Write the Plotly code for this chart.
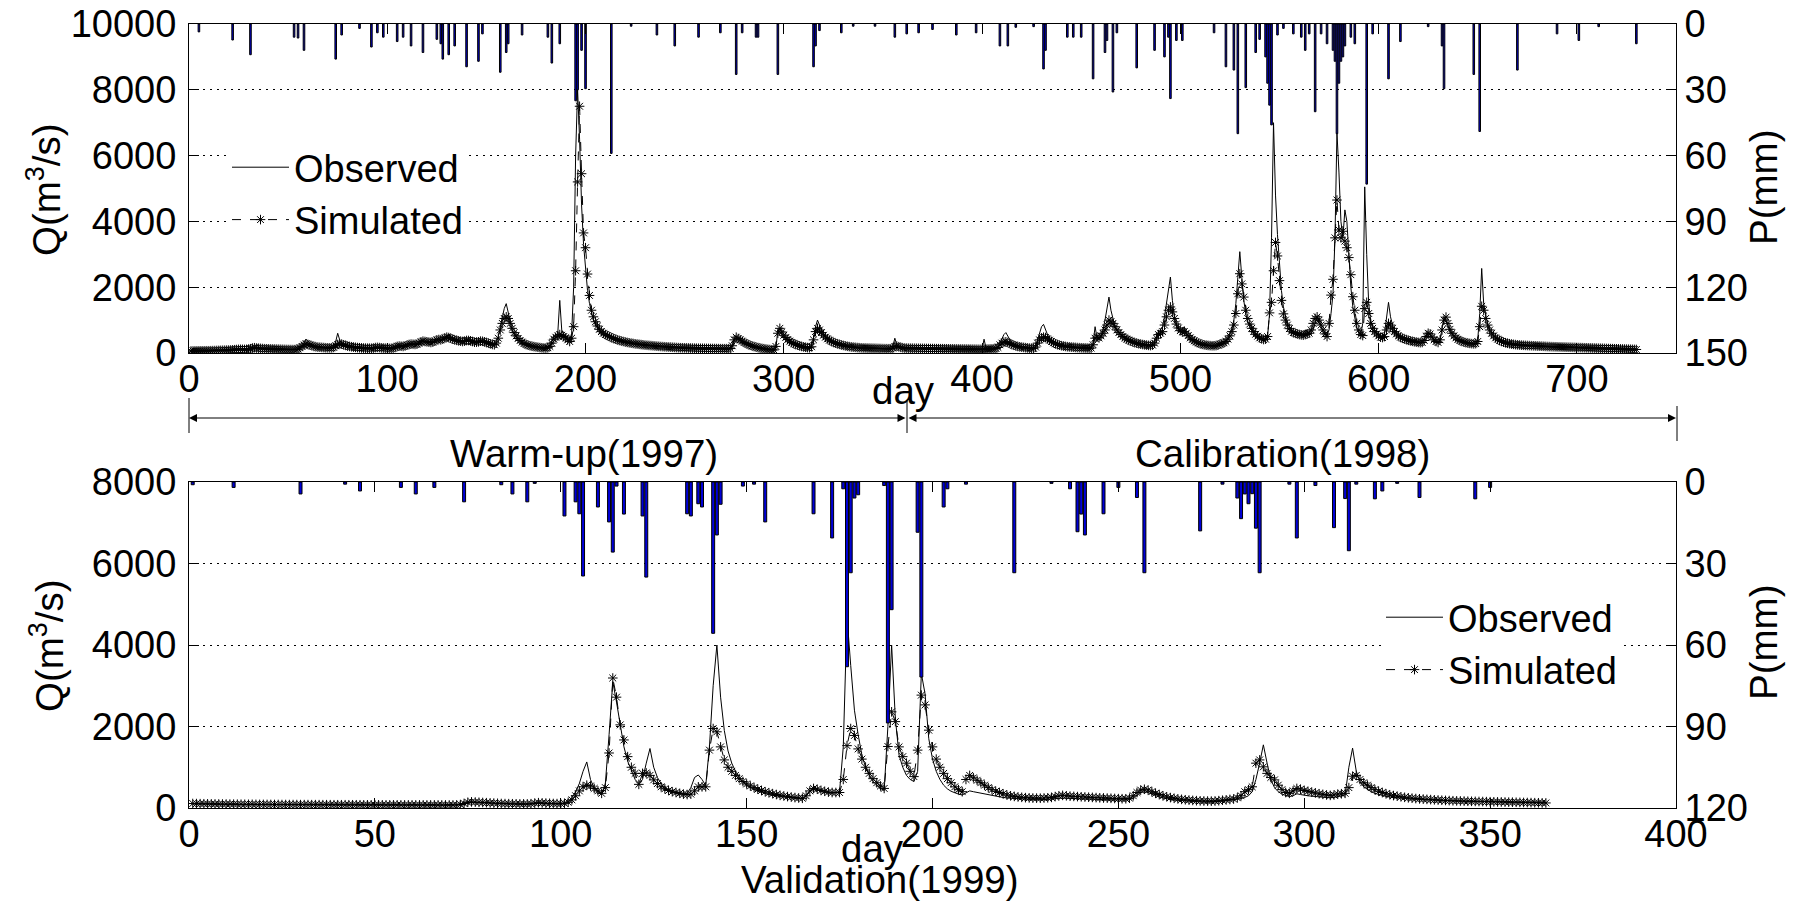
import plotly.graph_objects as go

# ---------------- data: warm-up + calibration (1997-1998), daily ----------------
q_obs_cal = [
80,78,76,75,74,73,72,72,71,70, 70,70,72,75,78,80,82,85,88,90,
95,100,110,120,115,110,105,100,105,120, 160,180,170,150,140,135,130,128,126,125,
124,122,120,118,116,115,114,112,110,108, 106,104,102,100,110,150,220,300,420,350,
280,230,200,180,170,165,160,158,156,155, 155,160,200,350,600,400,300,250,220,200,
190,180,170,165,160,155,150,148,146,145, 140,138,150,180,170,160,150,145,140,138,
140,145,160,200,260,240,220,210,230,280, 300,280,260,250,280,350,400,380,350,330,
320,310,330,380,430,400,380,420,480,520, 560,480,420,400,380,360,350,340,360,400,
380,360,340,320,330,350,380,360,340,320, 300,280,260,240,300,500,800,1100,1350,1500,
1200,900,700,560,460,390,340,300,270,250, 230,210,200,190,180,170,160,155,150,150,
160,220,350,500,520,600,1600,700,560,520, 420,380,600,2000,6000,8000,6500,4500,3300,2500,
1900,1500,1200,1000,850,750,680,620,580,550, 520,490,460,440,420,400,380,360,345,330,
320,310,300,290,280,270,262,255,248,240, 235,230,225,220,215,210,205,200,196,192,
188,184,180,176,172,168,165,162,160,158, 156,154,152,150,148,146,145,144,143,142,
141,140,139,138,137,136,135,134,133,132, 131,130,135,200,380,460,420,380,340,300,
270,240,220,200,185,170,160,150,140,130, 120,110,100,95,90,150,700,650,560,480,
420,380,340,300,270,250,230,210,190,180, 170,160,155,200,450,800,1000,850,700,600,
520,450,400,360,330,300,280,260,240,225, 212,200,190,182,176,170,165,160,156,152,
150,148,146,144,142,140,138,136,134,132, 130,129,128,127,200,450,250,180,160,150,
148,146,145,144,143,142,141,140,140,139, 138,137,136,135,134,133,132,131,130,130,
129,128,127,126,125,124,123,122,121,120, 120,119,118,117,116,115,114,113,112,111,
420,150,130,125,125,130,140,180,300,450, 560,620,500,380,300,250,220,200,185,175,
165,158,150,145,140,138,200,400,600,800, 870,700,560,450,380,330,290,260,240,225,
212,200,192,185,180,175,170,166,162,158, 155,152,150,148,146,300,800,450,400,500,
700,1000,1400,1700,1300,1000,800,700,600,540, 480,440,400,370,340,320,300,285,270,260,
250,240,232,225,220,230,300,500,650,700, 800,1100,1500,1900,2310,1600,1100,850,700,650,
620,800,600,500,430,380,340,310,285,265, 250,240,230,222,216,212,210,215,230,260,
280,320,380,460,580,750,1000,1500,2300,3080, 2300,1600,1200,950,800,680,590,520,470,430,
400,380,400,500,1200,3500,7000,4800,3600,2600, 1900,1400,1100,900,780,700,650,620,600,580,
570,560,700,620,580,600,700,900,1100,900, 800,700,600,550,700,1200,1800,3500,6700,5500,
4000,3500,4350,4000,3000,2000,1400,1000,750,620, 560,900,5050,3000,1500,1000,800,700,620,560,
520,500,600,1000,1540,1100,850,700,600,540, 500,470,440,420,400,380,365,350,340,330,
320,330,400,550,600,560,450,380,340,320, 400,800,1090,1000,800,650,560,490,440,400,
370,345,325,310,300,290,282,276,290,400, 1200,2570,1500,1100,850,700,600,520,460,420,
380,350,325,305,290,278,268,260,252,245, 240,236,232,228,225,222,219,216,213,210,
207,204,201,198,195,192,190,188,186,184, 182,180,178,176,174,172,170,168,166,164,
162,170,160,150,148,146,144,142,140,138, 136,134,132,130,128,126,124,122,120,118,
116,114,112,110,108,106,104,102,100,98]

q_sim_cal = [
60,62,63,64,65,66,66,67,68,68, 70,72,74,76,78,80,82,84,86,88,
90,95,100,105,110,112,110,108,110,115, 130,150,160,150,145,140,135,130,128,126,
124,122,120,118,116,114,112,110,108,106, 105,104,103,105,120,160,200,240,280,260,
240,220,200,190,180,175,170,165,160,158, 156,158,170,220,260,280,270,250,230,210,
200,190,180,172,165,160,155,150,148,146, 145,143,150,165,170,165,155,150,146,142,
140,142,150,170,200,210,205,200,215,240, 260,270,265,260,270,300,340,360,350,340,
330,320,330,360,400,410,400,420,460,480, 470,450,420,400,385,370,360,350,360,380,
380,370,350,330,330,340,360,355,340,320, 300,280,260,250,300,450,700,900,1050,1100,
1050,900,750,620,520,440,380,330,290,260, 240,220,205,195,185,175,165,158,152,150,
160,200,300,420,480,520,560,540,500,460, 400,350,450,800,2500,5200,7500,5450,3650,3200,
2400,1750,1300,1100,950,820,720,650,600,560, 530,500,470,445,420,400,380,365,350,335,
322,310,300,290,280,272,264,256,248,240, 235,230,225,220,214,208,203,198,194,190,
186,182,178,174,170,166,163,160,158,156, 154,152,150,148,146,144,143,142,141,140,
139,138,137,136,135,134,133,132,131,130, 131,130,135,220,400,480,440,400,360,320,
290,260,235,215,195,180,165,152,140,130, 122,112,104,98,94,200,600,750,640,540,
470,410,360,320,285,260,238,218,200,185, 175,165,160,190,400,650,750,700,620,540,
480,430,390,355,325,300,280,262,246,230, 216,204,194,186,178,172,166,161,157,153,
152,150,148,146,144,142,140,138,136,134, 132,131,130,130,150,200,210,190,170,158,
150,148,146,145,144,143,142,141,140,139, 138,137,136,135,134,133,132,131,130,130,
129,128,127,126,125,124,123,122,121,120, 120,119,118,117,116,115,114,113,112,111,
115,118,120,122,125,130,140,170,250,300, 330,340,320,290,260,235,215,200,188,178,
170,162,155,148,143,140,180,300,400,460, 480,470,430,390,350,310,280,255,238,222,
210,200,192,186,180,175,170,166,162,158, 155,152,150,148,150,250,450,480,460,520,
600,700,850,1000,950,900,800,700,620,560, 500,460,420,390,360,335,315,298,282,270,
258,248,240,232,226,240,300,450,560,600, 650,850,1100,1300,1400,1250,1050,880,760,680,
640,650,600,530,460,410,370,335,305,280, 262,248,238,230,224,220,220,225,240,270,
285,310,350,420,520,650,850,1200,1800,2410, 2100,1700,1300,1050,880,750,650,570,510,460,
430,410,420,500,1220,1540,2500,3360,2950,2200, 1600,1190,1000,850,740,660,620,600,580,560,
550,540,560,580,600,700,900,1050,1100,1000, 850,700,580,500,900,1760,2240,3500,4650,3740,
3500,3700,3400,3200,2900,2380,1710,1300,900,700, 560,530,1350,1540,1200,900,750,650,580,520,
480,470,500,700,900,850,750,650,580,520, 480,450,425,405,385,370,355,342,332,322,
315,320,380,500,600,580,480,400,350,320, 400,700,1000,1090,900,720,600,520,460,415,
380,352,330,315,302,292,284,278,285,350, 800,1420,1300,1050,850,700,600,520,460,420,
385,355,330,310,295,282,272,263,255,248, 243,239,235,231,228,225,222,219,216,213,
210,207,204,201,198,195,193,191,189,187, 185,183,181,179,177,175,173,171,169,167,
165,163,161,159,157,155,153,151,149,147, 145,143,141,139,137,135,133,131,129,127,
125,123,121,119,117,115,113,111,109,107]

rain_day_cal = [5,22,31,53,55,58,74,77,86,92,95,98,105,108,112,118,125,127,128,131,
134,140,146,148,157,160,161,168,181,183,187,195,196,198,200,213,223,236,245,257,
268,276,279,286,287,297,315,316,318,329,335,346,356,362,368,375,387,397,409,413,
417,426,431,432,443,446,450,456,462,463,466,468,478,487,492,494,495,498,501,517,
523,527,529,533,538,540,543,544,545,546,549,552,557,561,563,565,568,571,574,577,
578,579,580,581,582,583,586,588,594,597,605,611,625,632,633,648,651,670,690,701,
711,730]
rain_mm_cal = [3.6,7.3,14,6,6.4,12,16,5,2,10.5,4,6,8,6,10,13,7,9,16,14,
10,19.5,17,4.5,22,13,9,5,6,17.8,9,35,30,12,29.5,59,1,5,10,6,
4,23,4,6,6,23,19.5,10,3,4,1,1,6,4.5,4,2.5,5,4,10,10,
1.5,1.2,20.5,12,6,6,6,25,13,7.5,31,4,20,12,15,6,34,7.5,7.5,4,
19.5,21,50,29,13,7,15,27,37,46,5,2,4.5,6,12,4.5,40,4.5,9,12,
17,50,27,17,15,10,6,9,73,4.5,25,8,1.2,10,29.5,23,49,21,4.5,7.5,
1.2,9]

# ---------------- data: validation (1999), daily ----------------
q_obs_val = [
100,98,96,95,94,93,92,91,90,90, 89,88,88,87,86,86,85,85,84,84,
83,83,82,82,81,81,80,80,80,79, 79,79,78,78,78,77,77,77,76,76,
76,76,75,75,75,75,74,74,74,74, 74,74,73,73,73,73,72,72,72,72,
72,72,72,71,71,71,71,71,70,70, 70,72,80,100,130,140,135,130,125,120,
115,110,105,100,98,96,94,92,90,90, 90,95,110,120,115,110,105,100,98,96,
110,150,250,400,600,900,1130,700,480,380, 330,600,1800,3100,2600,2000,1500,1150,900,700,
600,700,1100,1460,1000,750,600,500,440,400, 370,350,340,360,500,750,810,700,550,1500,
3000,4000,2720,1900,1400,1100,900,750,640,560, 500,450,410,380,350,330,310,295,280,270,
260,250,240,235,230,300,420,480,440,400, 380,370,360,380,400,1500,4700,3500,2400,1800,
1300,1000,800,650,560,480,430,2000,4000,2200, 1300,1000,800,700,650,900,3300,2800,1700,1200,
900,700,560,470,410,370,340,320,380,420, 400,380,360,340,320,300,285,270,258,248,
240,232,225,220,215,210,206,203,200,205, 210,220,230,240,245,240,235,230,225,220,
215,210,208,206,204,202,200,198,196,194, 192,190,200,250,320,380,400,380,340,300,
270,245,225,210,198,188,180,172,166,160, 155,150,148,146,145,150,160,170,180,190,
200,210,230,260,300,400,700,1100,1550,1100, 700,500,400,340,300,280,300,350,330,310,
300,290,280,270,260,255,250,260,280,300, 320,1000,1470,900,650,520,450,400,360,330,
305,285,270,258,248,240,232,225,220,215, 210,205,200,196,192,188,185,182,179,176,
173,170,168,166,164,162,160,158,156,155, 154,153,152,151,150,149,148,147,146,145,
144,143,142,141,140]

q_sim_val = [
110,108,106,104,102,100,99,98,97,96, 95,94,93,92,91,90,90,89,88,88,
87,87,86,86,85,85,84,84,84,83, 83,83,82,82,82,81,81,81,80,80,
80,80,79,79,79,79,78,78,78,78, 78,78,77,77,77,77,76,76,76,76,
76,76,76,75,75,75,75,75,74,74, 74,76,85,110,140,150,145,140,135,130,
125,120,115,110,108,106,104,102,100,100, 100,105,120,130,125,120,115,110,108,106,
115,140,200,300,420,520,560,540,480,420, 360,500,1350,3190,2720,2040,1670,1260,1000,850,
580,850,860,800,690,600,520,470,430,400, 380,360,340,330,340,420,520,520,520,1420,
1950,1870,1500,1180,1000,900,800,720,650,590, 540,500,460,430,400,375,350,330,310,295,
280,268,256,246,238,300,420,480,460,430, 410,390,380,380,380,700,1530,1950,1780,1450,
1200,1000,850,720,620,540,480,1510,2360,2120, 1500,1260,1100,900,770,1420,2770,2530,1910,1500,
1200,1000,850,720,620,520,450,400,700,800, 740,680,620,560,500,450,410,380,350,320,
300,285,272,262,254,248,244,242,240,245, 250,260,280,300,310,300,290,285,280,275,
270,265,260,255,250,246,242,238,234,230, 228,226,240,300,380,440,460,440,400,360,
330,300,275,255,238,224,212,202,194,186, 180,175,172,170,168,172,180,190,200,210,
220,250,300,400,450,520,1100,1180,1010,850, 750,690,560,450,380,360,420,480,460,430,
410,390,370,350,335,320,310,320,340,350, 360,500,780,800,700,620,560,500,450,410,
380,350,325,305,290,275,262,250,240,232, 225,218,212,206,200,195,190,186,182,178,
175,172,169,166,164,162,160,158,156,154, 152,150,148,146,144,142,140,138,136,134,
132,130,128,126,124]

rain_day_val = [1,12,30,42,46,57,61,66,74,84,87,91,93,101,104,105,106,110,113,114,
115,117,122,123,134,135,137,138,141,142,143,149,152,155,168,173,176,177,178,179,
180,187,188,189,196,197,203,204,209,222,232,237,239,240,241,246,250,255,257,272,
278,282,283,284,285,286,287,288,296,298,303,308,311,312,314,319,321,325,331,346,
350]
rain_mm_val = [1,2,4.4,0.8,3.3,2,4.4,2,7.3,1,4.4,7.3,0.5,12.5,7.3,11.7,34.6,9.2,14.7,25.8,
1.5,11.8,12.5,35,11.7,12.5,8,9.2,55.7,19.5,8.2,1.5,0.8,14.7,11.7,20.6,2.5,68,33.4,5.9,
4.7,1.3,88.7,47,18.5,71.8,9.2,2.5,0.8,33.4,0.5,2.5,18.3,11.8,19.5,11.7,2,5.7,33.4,18,
0.8,5.9,13.5,4.4,8,4.3,17,33.4,0.8,20.6,1.3,16.8,6.1,25.3,0.8,6.2,3.3,0.5,5.7,6.2,
2]

x_ticks_cal = [0, 100, 200, 300, 400, 500, 600, 700]
x_ticks_val = [0, 50, 100, 150, 200, 250, 300, 350, 400]
q_ticks_cal = [0, 2000, 4000, 6000, 8000, 10000]
q_ticks_val = [0, 2000, 4000, 6000, 8000]
p_ticks_cal = [0, 30, 60, 90, 120, 150]
p_ticks_val = [0, 30, 60, 90, 120]

days_cal = list(range(1, len(q_obs_cal) + 1))
days_cal_s = list(range(1, len(q_sim_cal) + 1))
days_val = list(range(1, len(q_obs_val) + 1))
days_val_s = list(range(1, len(q_sim_val) + 1))

# ---------------- figure ----------------
# The page body has an 8 px margin: the figure starts 8 px in and fills to the window edge.
OFF = 8
W, H = 1801 - OFF, 903 - OFF
def fx(p): return (p - OFF) / W
def fy(p): return 1 - (p - OFF) / H

FONT = "Liberation Sans, Arial, Helvetica, sans-serif"
FS = 38
BLUE = "#0000D8"

fig = go.Figure()

sim_marker = dict(symbol="asterisk-open", size=8, color="black",
                  line=dict(width=1, color="black"))

fig.add_trace(go.Scatter(x=days_cal, y=q_obs_cal, mode="lines", name="Observed",
                         line=dict(color="black", width=1), xaxis="x", yaxis="y",
                         legend="legend", legendgroup="o1"))
fig.add_trace(go.Scatter(x=days_cal_s, y=q_sim_cal, mode="lines+markers", name="Simulated",
                         line=dict(color="black", width=1, dash="dash"), marker=sim_marker,
                         xaxis="x", yaxis="y", legend="legend", legendgroup="s1"))
fig.add_trace(go.Bar(x=rain_day_cal, y=rain_mm_cal, width=0.8, xaxis="x", yaxis="y2",
                     marker=dict(color=BLUE, line=dict(color="black", width=1)),
                     showlegend=False))

fig.add_trace(go.Scatter(x=days_val, y=q_obs_val, mode="lines", name="Observed",
                         line=dict(color="black", width=1), xaxis="x2", yaxis="y3",
                         legend="legend2", legendgroup="o2"))
fig.add_trace(go.Scatter(x=days_val_s, y=q_sim_val, mode="lines+markers", name="Simulated",
                         line=dict(color="black", width=1, dash="dash"), marker=sim_marker,
                         xaxis="x2", yaxis="y3", legend="legend2", legendgroup="s2"))
fig.add_trace(go.Bar(x=rain_day_val, y=rain_mm_val, width=0.8, xaxis="x2", yaxis="y4",
                     marker=dict(color=BLUE, line=dict(color="black", width=1)),
                     showlegend=False))

tickfont = dict(family=FONT, size=FS, color="black")
common = dict(showline=True, linecolor="black", linewidth=1, ticks="inside", ticklen=10,
              tickcolor="black", tickwidth=1, zeroline=False, showgrid=False,
              tickfont=tickfont, automargin=False, tickformat="d",
              ticklabeloverflow="allow")
grid = dict(showgrid=True, gridcolor="black", gridwidth=1, griddash="2px,5px")

xdom = [fx(189), fx(1676)]
top_dom = [fy(353), fy(24)]
bot_dom = [fy(808), fy(482)]

ITEMW = 57
fig.update_layout(
    width=W, height=H, margin=dict(l=0, r=0, t=0, b=0),
    paper_bgcolor="white", plot_bgcolor="white",
    font=dict(family=FONT, size=FS, color="black"),
    xaxis=dict(common, domain=xdom, range=[0, 750], tickvals=x_ticks_cal, anchor="y",
               mirror="ticks", ticklabelstandoff=-8),
    yaxis=dict(common, **grid, domain=top_dom, range=[0, 10000], tickvals=q_ticks_cal,
               anchor="x", ticklabelstandoff=4),
    yaxis2=dict(common, overlaying="y", side="right", range=[150, 0], tickvals=p_ticks_cal,
                anchor="x", ticklabelstandoff=0),
    xaxis2=dict(common, domain=xdom, range=[0, 400], tickvals=x_ticks_val, anchor="y3",
                mirror="ticks", ticklabelstandoff=-8),
    yaxis3=dict(common, **grid, domain=bot_dom, range=[0, 8000], tickvals=q_ticks_val,
                anchor="x2", ticklabelstandoff=4),
    yaxis4=dict(common, overlaying="y3", side="right", range=[120, 0], tickvals=p_ticks_val,
                anchor="x2", ticklabelstandoff=0),
    legend=dict(x=fx(254 - (ITEMW - 30)), y=fy(136), xanchor="left", yanchor="top",
                bgcolor="white", borderwidth=0, itemwidth=ITEMW,
                font=dict(family=FONT, size=38, color="black"),
                tracegroupgap=0, traceorder="grouped"),
    legend2=dict(x=fx(1408 - (ITEMW - 30)), y=fy(586), xanchor="left", yanchor="top",
                 bgcolor="white", borderwidth=0, itemwidth=ITEMW,
                 font=dict(family=FONT, size=38, color="black"),
                 tracegroupgap=0, traceorder="grouped"),
    showlegend=True,
)

LF = dict(family=FONT, size=38.5, color="black")
def label(text, x, y, angle=0):
    fig.add_annotation(text=text, x=fx(x), y=fy(y), xref="paper", yref="paper",
                       showarrow=False, textangle=angle, font=LF,
                       xanchor="center", yanchor="middle")

label("Q(m<sup>3</sup>/s)", 44, 190, -90)
label("P(mm)", 1763, 188, -90)
label("Q(m<sup>3</sup>/s)", 47, 646, -90)
label("P(mm)", 1763, 643, -90)
label("day", 903, 391)
label("Warm-up(1997)", 584, 453)
label("Calibration(1998)", 1282, 453)
label("day", 872, 848)
label("Validation(1999)", 880, 879)

# period arrows
DIV = 907
for head, tail in [(189, DIV), (1676, DIV)]:
    fig.add_annotation(text="", x=fx(head), y=fy(418), xref="paper", yref="paper",
                       ax=tail - head, ay=0, axref="pixel", ayref="pixel",
                       showarrow=True, arrowhead=2, startarrowhead=2, arrowside="end+start",
                       arrowsize=1.6, arrowwidth=1, arrowcolor="black",
                       standoff=0, startstandoff=0)
for xx, y0, y1 in [(189, 398, 433), (DIV, 400, 433), (1677, 406, 441)]:
    fig.add_shape(type="line", xref="paper", yref="paper", x0=fx(xx), x1=fx(xx),
                  y0=fy(y0), y1=fy(y1), line=dict(color="black", width=1))

fig.write_html("out.html")
